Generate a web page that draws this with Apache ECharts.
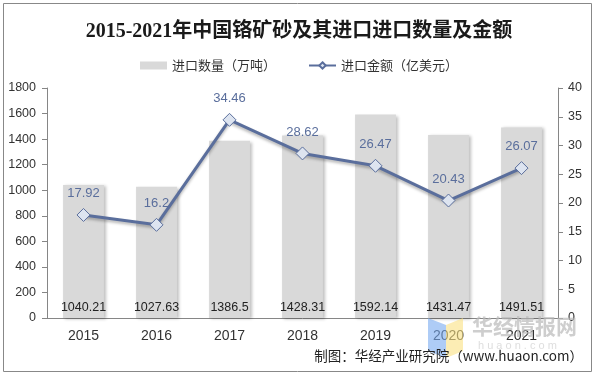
<!DOCTYPE html>
<html><head><meta charset="utf-8">
<script src="https://cdn.jsdelivr.net/npm/echarts@6/dist/echarts.min.js"></script>
<style>html,body{margin:0;padding:0;background:#fff}#c{width:598px;height:377px}</style>
</head><body><div id="c"></div>
<script>
var years = ['2015','2016','2017','2018','2019','2020','2021'];
var volume = [1040.21, 1027.63, 1386.5, 1428.31, 1592.14, 1431.47, 1491.51];
var amount = [17.92, 16.2, 34.46, 28.62, 26.47, 20.43, 26.07];
var leftTicks = {min: 0, max: 1800, interval: 200};
var rightTicks = {min: 0, max: 40, interval: 5};

var chart = echarts.init(document.getElementById('c'));
var lineColor = '#5a6e9c';
var axisCol = '#868686';
chart.setOption({
  animation: false,
  title: {
    text: '2015-2021年中国铬矿砂及其进口进口数量及金额',
    left: 'center', top: 17,
    textStyle: {fontFamily: '"Liberation Serif", "Noto Sans CJK SC"', fontWeight: 'bold', fontSize: 20, color: '#1a1a1a'}
  },
  legend: {
    top: 54, left: 'center', itemGap: 32, itemWidth: 27, itemHeight: 8,
    textStyle: {fontSize: 13, color: '#333', fontFamily: 'Noto Sans CJK SC'},
    data: [
      {name: '进口数量（万吨）', icon: 'rect'},
      {name: '进口金额（亿美元）'}
    ]
  },
  grid: {left: 47, right: 40, top: 88, bottom: 59},
  xAxis: {
    type: 'category', data: years,
    axisLine: {lineStyle: {color: axisCol}}, axisTick: {lineStyle: {color: axisCol}, length: 5},
    axisLabel: {color: '#333', fontSize: 14, margin: 11, fontFamily: 'Liberation Sans'}
  },
  yAxis: [
    {type: 'value', min: leftTicks.min, max: leftTicks.max, interval: leftTicks.interval,
     axisLine: {show: true, lineStyle: {color: axisCol}}, axisTick: {show: true, lineStyle: {color: axisCol}, length: 5},
     splitLine: {show: false},
     axisLabel: {color: '#333', fontSize: 12.5, margin: 11, fontFamily: 'Liberation Sans', formatter: function (v) { return String(v); }}},
    {type: 'value', min: rightTicks.min, max: rightTicks.max, interval: rightTicks.interval,
     axisLine: {show: true, lineStyle: {color: axisCol}}, axisTick: {show: true, lineStyle: {color: axisCol}, length: 5},
     splitLine: {show: false},
     axisLabel: {color: '#333', fontSize: 12.5, margin: 10, fontFamily: 'Liberation Sans'}}
  ],
  series: [
    {name: '进口数量（万吨）', type: 'bar', data: volume, barWidth: '56%',
     itemStyle: {color: '#d9d9d9', shadowColor: 'rgba(0,0,0,0.25)', shadowBlur: 3, shadowOffsetX: 2, shadowOffsetY: 1},
     label: {show: true, position: 'insideBottom', distance: 4, color: '#222', fontSize: 12.5, fontFamily: 'Liberation Sans'}},
    {name: '进口金额（亿美元）', type: 'line', yAxisIndex: 1, data: amount,
     symbol: 'diamond', symbolSize: 13,
     lineStyle: {color: lineColor, width: 3, shadowColor: 'rgba(0,0,0,0.3)', shadowBlur: 3, shadowOffsetY: 2},
     itemStyle: {color: '#dde4f0', borderColor: lineColor, borderWidth: 1},
     label: {show: true, position: 'top', distance: 8, color: lineColor, fontSize: 13, fontFamily: 'Liberation Sans'}}
  ],
  graphic: [
    {type: 'rect', shape: {x: 3.5, y: 3.5, width: 588, height: 368}, style: {fill: null, stroke: '#888', lineWidth: 1}, silent: true},
    {type: 'polygon', shape: {points: [[428,318],[446,325],[446,358],[428,351]]}, style: {fill: 'rgba(120,170,240,0.6)'}, silent: true, z: 10},
    {type: 'polygon', shape: {points: [[446,325],[463,318],[463,351],[446,358]]}, style: {fill: 'rgba(250,225,130,0.6)'}, silent: true, z: 10},
    {type: 'text', left: 472, top: 316, z: 10, style: {text: '华经情报网', fontSize: 21, fontWeight: 'bold', fill: 'rgba(185,185,185,0.7)', fontFamily: 'Noto Sans CJK SC'}},
    {type: 'text', left: 478, top: 340, z: 10, style: {text: 'h u a o n . c o m', fontSize: 11, fill: 'rgba(200,200,200,0.6)', fontFamily: 'Liberation Sans'}},
    {type: 'text', right: 15, top: 349, z: 11, style: {text: '制图：华经产业研究院（www.huaon.com）', fontSize: 13.5, fill: '#222', fontFamily: 'Noto Sans CJK SC'}}
  ]
});
</script></body></html>
